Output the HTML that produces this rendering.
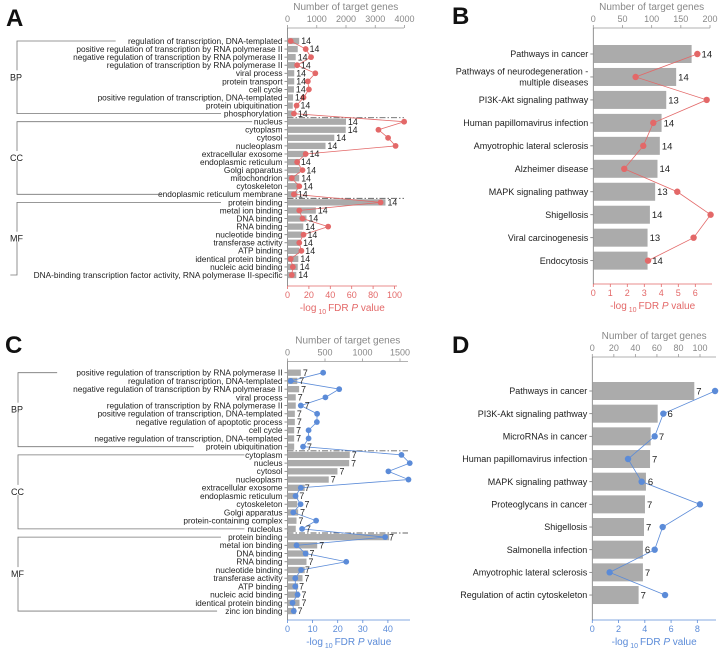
<!DOCTYPE html>
<html><head><meta charset="utf-8"><style>
html,body{margin:0;padding:0;background:#fff;}
svg{display:block;font-family:"Liberation Sans",sans-serif;}
</style></head><body>
<svg id="fig" width="720" height="650" viewBox="0 0 720 650" xmlns="http://www.w3.org/2000/svg"></svg>
<script>
// ---------- Panel A data ----------
const aLabels = ["regulation of transcription, DNA-templated","positive regulation of transcription by RNA polymerase II","negative regulation of transcription by RNA polymerase II","regulation of transcription by RNA polymerase II","viral process","protein transport","cell cycle","positive regulation of transcription, DNA-templated","protein ubiquitination","phosphorylation",
"nucleus","cytoplasm","cytosol","nucleoplasm","extracellular exosome","endoplasmic reticulum","Golgi apparatus","mitochondrion","cytoskeleton","endoplasmic reticulum membrane",
"protein binding","metal ion binding","DNA binding","RNA binding","nucleotide binding","transferase activity","ATP binding","identical protein binding","nucleic acid binding","DNA-binding transcription factor activity, RNA polymerase II-specific"];
const aGenes = [400,350,280,260,230,230,220,190,180,170, 2000,1990,1600,1300,650,420,420,400,370,340, 3350,970,650,540,500,430,400,370,350,300];
const aFdr = [3,17,22,9,26,19,20,15,8.5,6, 109,85,94,101,17,9,14,4,11,6, 87,11,14,38,15,11,13,3,5,4];
const aCounts = [14,14,14,14,14,14,14,14,14,14, 14,14,14,14,14,14,14,14,14,14, 14,14,14,14,14,14,14,14,14,14];
const aGeneTicks = [0,1000,2000,3000,4000];
const aFdrTicks = [0,20,40,60,80,100];
// ---------- Panel B data ----------
const bLabels = ["Pathways in cancer","Pathways of neurodegeneration -|multiple diseases","PI3K-Akt signaling pathway","Human papillomavirus infection","Amyotrophic lateral sclerosis","Alzheimer disease","MAPK signaling pathway","Shigellosis","Viral carcinogenesis","Endocytosis"];
const bGenes = [168.5,142,125,117,114,110,106,97,93,93];
const bFdr = [6.12,2.49,6.67,3.53,2.94,1.82,4.94,6.9,5.9,3.22];
const bCounts = [14,14,13,14,14,14,13,14,13,14];
const bGeneTicks = [0,50,100,150,200];
const bFdrTicks = [0,1,2,3,4,5,6];
// ---------- Panel C data ----------
const cLabels = ["positive regulation of transcription by RNA polymerase II","regulation of transcription, DNA-templated","negative regulation of transcription by RNA polymerase II","viral process","regulation of transcription by RNA polymerase II","positive regulation of transcription, DNA-templated","negative regulation of apoptotic process","cell cycle","negative regulation of transcription, DNA-templated","protein ubiquitination",
"cytoplasm","nucleus","cytosol","nucleoplasm","extracellular exosome","endoplasmic reticulum","cytoskeleton","Golgi apparatus","protein-containing complex","nucleolus",
"protein binding","metal ion binding","DNA binding","RNA binding","nucleotide binding","transferase activity","ATP binding","nucleic acid binding","identical protein binding","zinc ion binding"];
const cGenes = [178,130,155,110,110,98,98,89,89,89, 830,822,666,550,230,142,130,142,120,110, 1355,396,276,253,230,200,142,155,160,110];
const cFdr = [14.2,1.3,20.6,15.1,5.3,11.8,11.7,8.4,8.4,6.2, 45.4,48.7,40.2,48.2,5.3,3.2,5.2,2.3,11.4,5.8, 38.9,3.6,7.2,23.4,5.4,3.1,3.1,4,2,2.5];
const cCounts = [7,7,7,7,7,7,7,7,7,7, 7,7,7,7,7,7,7,7,7,7, 7,7,7,7,7,7,7,7,7,7];
const cGeneTicks = [0,500,1000,1500];
const cFdrTicks = [0,10,20,30,40];
// ---------- Panel D data ----------
const dLabels = ["Pathways in cancer","PI3K-Akt signaling pathway","MicroRNAs in cancer","Human papillomavirus infection","MAPK signaling pathway","Proteoglycans in cancer","Shigellosis","Salmonella infection","Amyotrophic lateral sclerosis","Regulation of actin cytoskeleton"];
const dGenes = [94.7,60.7,54.2,53.6,49.8,48.9,48,47,47,43];
const dFdr = [9.35,5.41,4.75,2.72,3.76,8.2,5.36,4.75,1.32,5.54];
const dCounts = [7,6,7,7,6,7,7,6,7,7];
const dGeneTicks = [0,20,40,60,80,100];
const dFdrTicks = [0,2,4,6,8];
const groups = ["BP","CC","MF"];

const NS = "http://www.w3.org/2000/svg";
const svg = document.getElementById('fig');
function mk(tag, attrs, parent, text){
  const e = document.createElementNS(NS, tag);
  for (const k in attrs) e.setAttribute(k, attrs[k]);
  if (text !== undefined) e.textContent = text;
  (parent || svg).appendChild(e);
  return e;
}

function panel(o){
  const g = mk('g', {});
  
  
  const gx = v => o.x0 + v * o.gScale;
  const fx = v => o.x0 + v * o.fScale;
  const ry = i => o.y0 + i * o.step;
  // panel letter
  const L = mk('text', {x:o.lx, y:o.ly, 'font-size':24, 'font-weight':'bold', fill:'#111'}, g, o.letter);
  
  
  // top axis
  const ax = mk('g', {}, g);
  
  
  mk('line', {x1:o.x0, x2:o.topEnd, y1:o.axTop, y2:o.axTop, stroke:'#999', 'stroke-width':0.8}, ax);
  o.gTicks.forEach(t => {
    mk('line', {x1:gx(t), x2:gx(t), y1:o.axTop-3, y2:o.axTop, stroke:'#999', 'stroke-width':0.8}, ax);
    const tl = mk('text', {x:gx(t), y:o.axTop-6, 'font-size':9, fill:'#888', 'text-anchor':'middle'}, ax, t);
    
    
  });
  const tt = mk('text', {x:(o.x0+o.topEnd)/2, y:o.axTop-18, 'font-size':10, fill:'#888', 'text-anchor':'middle'}, g, 'Number of target genes');
  
  
  // bottom axis
  const bx = mk('g', {}, g);
  
  
  mk('line', {x1:o.x0, x2:o.botEnd, y1:o.axBot, y2:o.axBot, stroke:o.color, 'stroke-width':0.8}, bx);
  o.fTicks.forEach(t => {
    mk('line', {x1:fx(t), x2:fx(t), y1:o.axBot, y2:o.axBot+3, stroke:o.color, 'stroke-width':0.8}, bx);
    const tl = mk('text', {x:fx(t), y:o.axBot+12, 'font-size':9, fill:o.color, 'text-anchor':'middle'}, bx, t);
    
    
  });
  const bt = mk('text', {x:(o.x0+o.botEnd)/2, y:o.axBot+25, 'font-size':10, fill:o.color, 'text-anchor':'middle'}, g);
  
  
  mk('tspan', {}, bt, '-log');
  mk('tspan', {'font-size':7, dy:3}, bt, ' 10 ');
  mk('tspan', {dy:-3}, bt, 'FDR ');
  mk('tspan', {'font-style':'italic'}, bt, 'P');
  mk('tspan', {}, bt, ' value');
  // left axis line
  mk('line', {x1:o.x0, x2:o.x0, y1:o.axTop, y2:o.axBot, stroke:'#777', 'stroke-width':0.8}, g);
  // bars
  const n = o.labels.length;
  for (let i=0;i<n;i++){
    const y = ry(i);
    const r = mk('rect', {x:o.x0, y:y-o.barH/2, width:Math.max(0,gx(o.genes[i])-o.x0), height:o.barH, fill:'#ababab'}, g);
    
    
    mk('line', {x1:o.x0-3, x2:o.x0, y1:y, y2:y, stroke:'#777', 'stroke-width':0.8}, g);
    const parts = o.labels[i].split('|');
    parts.forEach((p,k) => {
      const yy = y + o.fs*0.35 + (k - (parts.length-1)/2) * (o.fs+2);
      const lb = mk('text', {x:o.x0-5, y:yy, 'font-size':o.fs, fill:'#222', 'text-anchor':'end'}, g, p);
      
      
    });
  }
  // separators
  if (o.groups){
    [10,20].forEach(k => {
      const y = (ry(k-1)+ry(k))/2;
      mk('line', {x1:o.x0, x2:o.topEnd, y1:y, y2:y, stroke:'#666', 'stroke-width':0.9, 'stroke-dasharray':'6,2,1.5,2'}, g);
    });
    o.groups.forEach((gn,k) => {
      const y1 = ry(k*10), y2 = ry(k*10+9);
      const br = mk('g', {}, g);
      
      
      const w1 = o.x0 - 8 - o.labels[k*10].length * o.fs * 0.47;
      const w2 = o.x0 - 8 - o.labels[k*10+9].length * o.fs * 0.47;
      mk('path', {d:`M${w1},${y1} H${o.bx} V${y2} H${w2}`, fill:'none', stroke:'#777', 'stroke-width':0.8}, br);
      mk('rect', {x:o.bx-8, y:(y1+y2)/2-7, width:18, height:10, fill:'#fff'}, br);
      const gl = mk('text', {x:o.bx-7, y:(y1+y2)/2+3, 'font-size':9, fill:'#222'}, br, gn);
      
      
    });
  }
  // line
  let pts = '';
  for (let i=0;i<n;i++) pts += fx(o.fdr[i]) + ',' + ry(i) + ' ';
  const pl = mk('polyline', {points:pts, fill:'none', stroke:o.color, 'stroke-width':0.8}, g);
  
  
  for (let i=0;i<n;i++){
    const c = mk('circle', {cx:fx(o.fdr[i]), cy:ry(i), r:o.dotR, fill:o.color}, g);
    
    
    const be = gx(o.genes[i]); const dx = fx(o.fdr[i]);
    let lx = be + 2;
    if (dx > be - 4 && dx < be + 10) lx = dx + o.dotR + 1;
    const cl = mk('text', {x:lx, y:ry(i)+o.fs*0.38, 'font-size':o.fs+0.5, fill:'#222'}, g, o.counts[i]);
    
    
  }
}

const RED = '#e36868', BLUE = '#5b8bd8';
panel({name:'panel-a', letter:'A', lx:6, ly:26, x0:287.5, gScale:117/4000, fScale:107/100, y0:41, step:8.07, barH:6.3, fs:8.3,
  axTop:28, axBot:286, topEnd:404, botEnd:397, labels:aLabels, genes:aGenes, fdr:aFdr, counts:aCounts,
  gTicks:aGeneTicks, fTicks:aFdrTicks, color:RED, dotR:2.9, groups:groups, bx:17});
panel({name:'panel-b', letter:'B', lx:452, ly:24, x0:593.3, gScale:116.7/200, fScale:17, y0:54, step:22.96, barH:18, fs:9,
  axTop:28, axBot:284, topEnd:710, botEnd:712, labels:bLabels, genes:bGenes, fdr:bFdr, counts:bCounts,
  gTicks:bGeneTicks, fTicks:bFdrTicks, color:RED, dotR:3.2});
panel({name:'panel-c', letter:'C', lx:5, ly:353, x0:287.5, gScale:112.5/1500, fScale:2.51, y0:372.7, step:8.22, barH:6.3, fs:8.3,
  axTop:361.5, axBot:620, topEnd:408, botEnd:410, labels:cLabels, genes:cGenes, fdr:cFdr, counts:cCounts,
  gTicks:cGeneTicks, fTicks:cFdrTicks, color:BLUE, dotR:2.9, groups:groups, bx:18});
panel({name:'panel-d', letter:'D', lx:452, ly:353, x0:592.3, gScale:107.7/100, fScale:13.13, y0:391, step:22.67, barH:18, fs:9,
  axTop:357, axBot:620, topEnd:716, botEnd:716, labels:dLabels, genes:dGenes, fdr:dFdr, counts:dCounts,
  gTicks:dGeneTicks, fTicks:dFdrTicks, color:BLUE, dotR:3.2});
</script>
</body></html>
